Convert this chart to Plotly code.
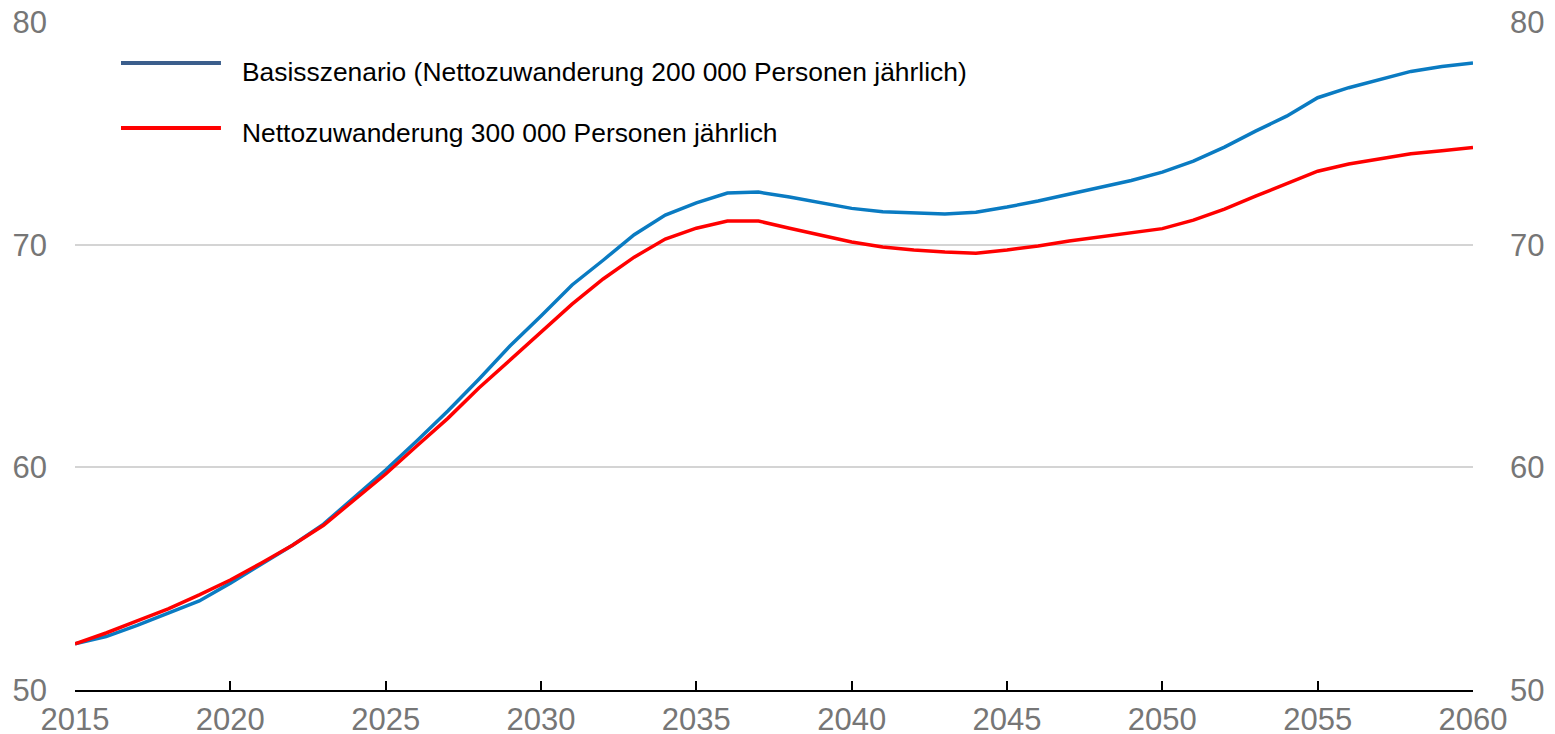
import plotly.graph_objects as go

years = list(range(2015, 2061))

basis = [52.07, 52.4, 52.9, 53.46, 54.0, 54.8, 55.66, 56.5, 57.45, 58.67,
         59.88, 61.18, 62.53, 63.96, 65.45, 66.8, 68.19, 69.3, 70.45, 71.33,
         71.88, 72.32, 72.36, 72.14, 71.9, 71.63, 71.48, 71.42, 71.38, 71.46,
         71.69, 71.96, 72.27, 72.6, 72.88, 73.26, 73.75, 74.38, 75.1, 75.77,
         76.6, 77.05, 77.43, 77.78, 78.0, 78.16]

zuwanderung = [52.07, 52.56, 53.1, 53.64, 54.27, 54.94, 55.7, 56.5, 57.4, 58.53,
               59.7, 60.96, 62.2, 63.56, 64.82, 66.12, 67.33, 68.46, 69.44, 70.25,
               70.74, 71.06, 71.06, 70.74, 70.43, 70.12, 69.9, 69.76, 69.67, 69.62,
               69.76, 69.94, 70.16, 70.34, 70.52, 70.72, 71.1, 71.6, 72.18, 72.72,
               73.3, 73.62, 73.84, 74.08, 74.22, 74.36]

labels = ["Basisszenario (Nettozuwanderung 200 000 Personen jährlich)",
          "Nettozuwanderung 300 000 Personen jährlich"]

x_ticks = list(range(2015, 2061, 5))
y_ticks = [50, 60, 70, 80]

grey = "#767676"
tick_font = dict(family="Liberation Sans, Arial", size=31, color=grey)

fig = go.Figure()
fig.add_trace(go.Scatter(x=years, y=basis, mode="lines", name=labels[0],
                         line=dict(color="#0a7bc2", width=3.5)))
fig.add_trace(go.Scatter(x=years, y=zuwanderung, mode="lines", name=labels[1],
                         line=dict(color="#ff0000", width=3.5)))
# invisible trace so the right axis shows up
fig.add_trace(go.Scatter(x=[years[0]], y=[basis[0]], yaxis="y2", mode="lines",
                         showlegend=False, hoverinfo="skip",
                         line=dict(color="rgba(0,0,0,0)")))

# hand-drawn legend (swatches are longer than plotly's)
legend_cols = ["#3b5e8c", "#ff0000"]
swatch_y = [0.9386, 0.8413]
text_y = [0.9251, 0.8338]
for lab, col, sy, ty in zip(labels, legend_cols, swatch_y, text_y):
    fig.add_shape(type="line", xref="paper", yref="paper",
                  x0=0.0329, x1=0.1044, y0=sy, y1=sy,
                  line=dict(color=col, width=4))
    fig.add_annotation(xref="paper", yref="paper", x=0.118, y=ty,
                       xanchor="left", yanchor="middle", showarrow=False,
                       text=lab,
                       font=dict(family="Liberation Sans, Arial",
                                 size=26.4, color="black"))

# page body has an 8px margin, so the figure is a bit smaller than the window
fig.update_layout(
    width=1547, height=726,
    margin=dict(l=67, r=82, t=14, b=44),
    paper_bgcolor="white", plot_bgcolor="white",
    showlegend=False,
    xaxis=dict(range=[2015, 2060], tickvals=x_ticks, showgrid=False,
               showline=True, linecolor="black", linewidth=1.5,
               ticks="inside", ticklen=9, tickwidth=1.5, tickcolor="black",
               tickfont=tick_font, ticklabelstandoff=1, zeroline=False,
               automargin=False, ticklabeloverflow="allow"),
    yaxis=dict(range=[50, 80], tickvals=y_ticks, showgrid=True,
               gridcolor="#d4d4d4", gridwidth=2, showline=False,
               zeroline=False, tickfont=tick_font, ticklabelstandoff=27,
               automargin=False, ticklabeloverflow="allow"),
    yaxis2=dict(range=[50, 80], tickvals=y_ticks, overlaying="y", side="right",
                showgrid=False, showline=False, zeroline=False,
                tickfont=tick_font, ticklabelstandoff=36, automargin=False,
                ticklabeloverflow="allow"),
)

fig.write_html("out.html")
